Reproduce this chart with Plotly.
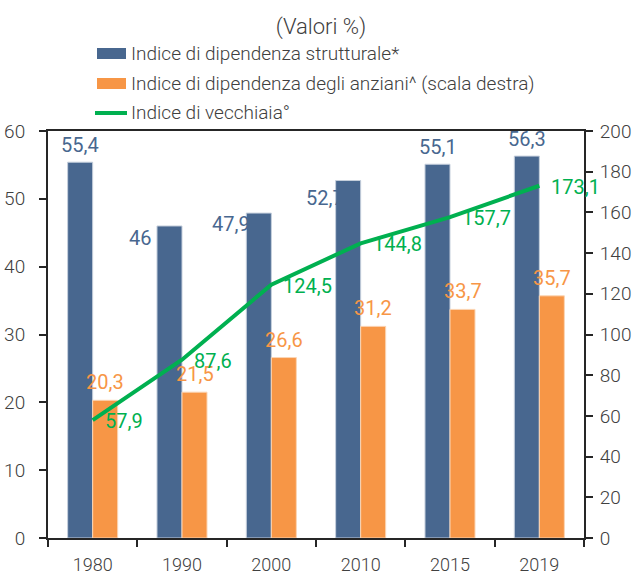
import plotly.graph_objects as go

years = ["1980", "1990", "2000", "2010", "2015", "2019"]
dip_strutturale = [55.4, 46.0, 47.9, 52.7, 55.1, 56.3]
dip_anziani = [20.3, 21.5, 26.6, 31.2, 33.7, 35.7]
vecchiaia = [57.9, 87.6, 124.5, 144.8, 157.7, 173.1]

lab_strutturale = ["55,4", "46", "47,9", "52,7", "55,1", "56,3"]
lab_anziani = ["20,3", "21,5", "26,6", "31,2", "33,7", "35,7"]
lab_vecchiaia = ["57,9", "87,6", "124,5", "144,8", "157,7", "173,1"]

name_s = "Indice di dipendenza strutturale*"
name_a = "Indice di dipendenza degli anziani^ (scala destra)"
name_v = "Indice di vecchiaia°"

BLUE = "#48678F"
ORANGE = "#F79646"
GREEN = "#00B050"
GREY = "#404040"
FONT = "Roboto"

fig = go.Figure()
fig.add_trace(go.Bar(x=years, y=dip_strutturale, name=name_s, marker_color=BLUE,
                     marker_line=dict(color="#C5CFDC", width=1), yaxis="y"))
fig.add_trace(go.Bar(x=years, y=dip_anziani, name=name_a, marker_color=ORANGE,
                     marker_line=dict(color="#FBD5B5", width=1), yaxis="y"))
fig.add_trace(go.Scatter(x=years, y=vecchiaia, name=name_v, mode="lines",
                         line=dict(color=GREEN, width=4), yaxis="y2"))

LABEL_FONT = 20
annotations = []
# blue labels: (dx, dy) offsets relative to bar top-centre
blue_off = [(0, 17), (-30, -12), (-28, -11), (-23, -17), (0, 17), (0, 17)]
for i, (v, t, (dx, dy)) in enumerate(zip(dip_strutturale, lab_strutturale, blue_off)):
    annotations.append(dict(x=i, y=v, xref="x", yref="y", text=t, showarrow=False,
                            xshift=-12.5 + dx, yshift=dy,
                            font=dict(family=FONT, size=LABEL_FONT, color=BLUE)))
for i, (v, t) in enumerate(zip(dip_anziani, lab_anziani)):
    annotations.append(dict(x=i, y=v, xref="x", yref="y", text=t, showarrow=False,
                            xshift=12.5, yshift=18,
                            font=dict(family=FONT, size=LABEL_FONT, color=ORANGE)))
for i, (v, t) in enumerate(zip(vecchiaia, lab_vecchiaia)):
    annotations.append(dict(x=i, y=v, xref="x", yref="y2", text=t, showarrow=False,
                            xanchor="left", xshift=10, yshift=-1,
                            font=dict(family=FONT, size=LABEL_FONT, color=GREEN)))

# manual legend (paper coordinates)
L, R, T, B = 48, 584, 131, 538
def px(x):
    return (x - L) / (R - L)
def py(y):
    return (B - y) / (B - T)

shapes = []
rows = [(53.5, name_s, BLUE, "bar"), (83.5, name_a, ORANGE, "bar"), (113, name_v, GREEN, "line")]
for yy, name, col, kind in rows:
    if kind == "bar":
        shapes.append(dict(type="rect", xref="paper", yref="paper",
                           x0=px(97), x1=px(126), y0=py(yy + 5.5), y1=py(yy - 5.5),
                           fillcolor=col, line=dict(width=0)))
    else:
        shapes.append(dict(type="line", xref="paper", yref="paper",
                           x0=px(95), x1=px(127), y0=py(yy), y1=py(yy),
                           line=dict(color=col, width=4)))
    annotations.append(dict(x=px(129), y=py(yy), xref="paper", yref="paper", text=name,
                            showarrow=False, xanchor="left", yanchor="middle",
                            font=dict(family=FONT, size=19, color=GREY, weight=300)))

fig.update_layout(
    width=641, height=575,
    margin=dict(l=L, r=641 - R, t=T, b=575 - B, pad=0, autoexpand=False),
    paper_bgcolor="white", plot_bgcolor="white",
    barmode="group", bargap=0.44, bargroupgap=0,
    showlegend=False,
    title=dict(text="(Valori %)", x=321 / 641, xanchor="center", xref="container",
               y=1 - 26 / 575, yanchor="middle", yref="container", automargin=False,
               font=dict(family=FONT, size=22, color=GREY, weight=300)),
    font=dict(family=FONT, size=17, color=GREY),
    xaxis=dict(type="category", range=[-0.5, len(years) - 0.5], autorange=False,
               automargin=False,
               showline=True, linecolor="#262626", linewidth=2,
               mirror=True, ticks="outside", ticklen=7, tickwidth=1.5, tickcolor="#262626",
               tickson="boundaries", showgrid=False, zeroline=False, tickangle=0,
               ticklabelstandoff=9,
               tickfont=dict(family=FONT, size=18, color=GREY, weight=300)),
    yaxis=dict(range=[0, 60], dtick=10, showline=True, linecolor="#262626", linewidth=2,
               automargin=False,
               ticks="outside", ticklen=7, tickwidth=1.5, tickcolor="#262626",
               showgrid=False, zeroline=False, ticklabelstandoff=10,
               tickfont=dict(family=FONT, size=19, color=GREY, weight=300)),
    yaxis2=dict(range=[0, 200], dtick=20, overlaying="y", side="right",
                automargin=False,
                showline=True, linecolor="#262626", linewidth=2,
                ticks="outside", ticklen=7, tickwidth=1.5, tickcolor="#262626",
                showgrid=False, zeroline=False, ticklabelstandoff=3,
                tickfont=dict(family=FONT, size=19, color=GREY, weight=300)),
    annotations=annotations,
    shapes=shapes,
)

fig.write_html("out.html", config={"displayModeBar": False},
               post_script="document.body.style.margin='0px';")
